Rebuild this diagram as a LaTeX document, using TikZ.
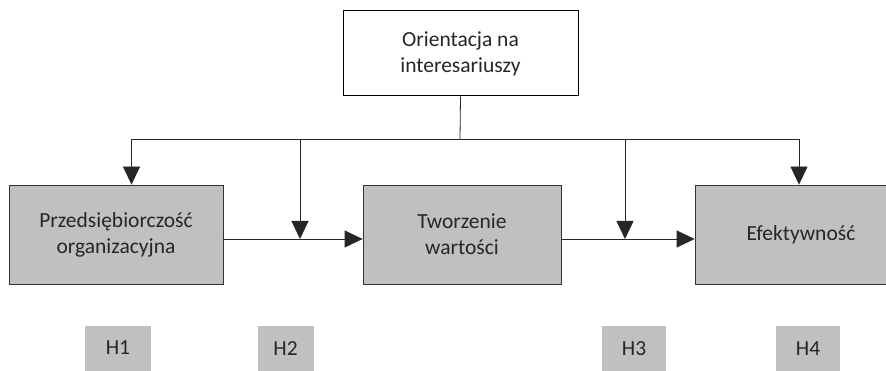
\documentclass[tikz,border=0pt]{standalone}
\usepackage{fontspec}
\setmainfont{Carlito}
\usetikzlibrary{arrows.meta}
\usetikzlibrary{positioning}
\definecolor{boxgray}{RGB}{192,192,192}
\definecolor{inkgray}{RGB}{38,38,38}

\tikzset{
	factor/.style={draw=black!80, line width=0.8pt, fill=boxgray, minimum height=99pt, align=center, text=inkgray, font=\fontsize{21.5}{26}\selectfont},
	hyp/.style={fill=boxgray, minimum height=45pt, inner sep=0pt, text=inkgray, font=\fontsize{21.5}{26}\selectfont},
	link/.style={draw=black!85, line width=0.8pt},
	tip/.style={-{Triangle[length=18pt, width=17pt]}}
}

\begin{document}
\begin{tikzpicture}[x=1pt, y=-1pt]
	\useasboundingbox (0,0) rectangle (886,371);

	\node (Orient) [draw, line width=1pt, minimum width=235pt, minimum height=85pt, align=center, text=inkgray, font=\fontsize{21.5}{26}\selectfont] at (460.5,53.5) {Orientacja na\\interesariuszy};

	\node (Przeds) [factor, minimum width=214pt] at (116,234.5) {Przedsiębiorczość\\organizacyjna};
	\node (Tworz) [factor, minimum width=198pt] at (462,234.5) {Tworzenie\\wartości};
	\node (Efekt) [factor, minimum width=212pt] at (801,234.5) {Efektywność};

	\node (H1) [hyp, minimum width=66pt] at (118,348) {H1};
	\node (H2) [hyp, minimum width=56pt] at (285.5,348.5) {H2};
	\node (H3) [hyp, minimum width=64pt] at (634,348.5) {H3};
	\node (H4) [hyp, minimum width=64pt] at (808,348.5) {H4};

	% distribution line
	\coordinate (Split) at (460,139);
	\coordinate (SplitL) at (131.5,139);
	\coordinate (SplitR) at (799,139);
	\coordinate (M1) at (300,139);
	\coordinate (M2) at (625,139);
	\coordinate (J1) at (300,239);
	\coordinate (J2) at (625,239);

	\draw [link] (Orient.south) -- (Split);
	\draw [link] (SplitL) -- (SplitR);
	\draw [link, tip] (SplitL) -- (SplitL |- Przeds.north);
	\draw [link, tip] (SplitR) -- (SplitR |- Efekt.north);
	\draw [link, tip] (M1) -- (J1);
	\draw [link, tip] (M2) -- (J2);

	% main path
	\draw [link, tip] (Przeds.east |- J1) -- (Tworz.west |- J1);
	\draw [link, tip] (Tworz.east |- J2) -- (Efekt.west |- J2);

\end{tikzpicture}
\end{document}
